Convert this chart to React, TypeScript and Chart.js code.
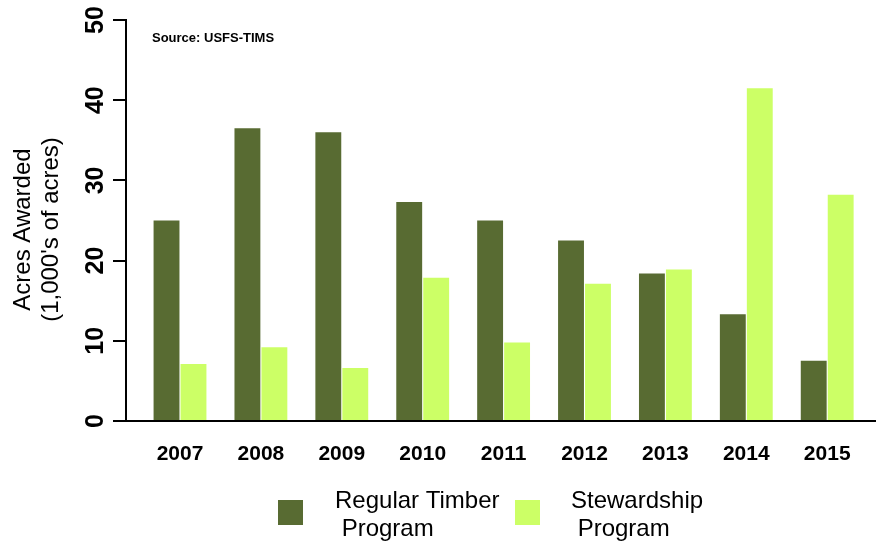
import React, { useEffect, useRef } from "react";
import { Chart, registerables } from "chart.js";

Chart.register(...registerables);

const years = [2007, 2008, 2009, 2010, 2011, 2012, 2013, 2014, 2015];
const regularTimber = [25.0, 36.5, 36.0, 27.3, 25.0, 22.5, 18.4, 13.3, 7.5];
const stewardship = [7.1, 9.2, 6.6, 17.85, 9.8, 17.1, 18.9, 41.5, 28.2];
const seriesLabels = [["Regular Timber", " Program"], ["Stewardship", " Program"]];
const yTicks = [0, 10, 20, 30, 40, 50];
const yTitle = ["Acres Awarded", "(1,000's of acres)"];
const sourceNote = "Source: USFS-TIMS";

const DARK = "rgb(88,107,50)";
const LIGHT = "rgb(204,255,102)";
const FONT = "'Liberation Sans', Arial, Helvetica, sans-serif";

const extrasPlugin = {
  id: "extras",
  afterDraw(chart: any) {
    const ctx = chart.ctx;
    const area = chart.chartArea;
    ctx.save();
    // source note
    ctx.fillStyle = "#000";
    ctx.font = `bold 13px ${FONT}`;
    ctx.textAlign = "left";
    ctx.textBaseline = "alphabetic";
    ctx.fillText(sourceNote, area.left + 26, area.top + 21.5);
    // y axis title
    ctx.save();
    ctx.translate(23, (area.top + area.bottom) / 2 + 9);
    ctx.rotate(-Math.PI / 2);
    ctx.font = `24px ${FONT}`;
    ctx.textAlign = "center";
    ctx.textBaseline = "middle";
    yTitle.forEach((ln, j) => ctx.fillText(ln, 0, j * 28));
    ctx.restore();
    // legend
    const boxX = [278, 515];
    const textX = [335, 571];
    ctx.font = `24px ${FONT}`;
    ctx.textAlign = "left";
    ctx.textBaseline = "alphabetic";
    chart.data.datasets.forEach((ds: any, i: number) => {
      ctx.fillStyle = ds.backgroundColor;
      ctx.fillRect(boxX[i], 500, 25, 25);
      ctx.fillStyle = "#000";
      const lines = ds.label as string[];
      lines.forEach((ln: string, j: number) => {
        ctx.fillText(ln, textX[i], 508 + j * 27.5);
      });
    });
    ctx.restore();
  },
};

export default function App() {
  const ref = useRef<HTMLCanvasElement | null>(null);
  useEffect(() => {
    const canvas = ref.current!;
    const minX = years[0] - 0.6675;
    const maxX = minX + 750 / 80.9;
    const chart = new Chart(canvas, {
      type: "bar",
      data: {
        labels: years,
        datasets: [
          { label: seriesLabels[0] as any, data: regularTimber, backgroundColor: DARK },
          { label: seriesLabels[1] as any, data: stewardship, backgroundColor: LIGHT },
        ],
      },
      options: {
        animation: false,
        responsive: false,
        maintainAspectRatio: false,
        layout: { padding: { top: 20, left: 0, right: 0, bottom: 0 } },
        datasets: { bar: { categoryPercentage: 2 / 3, barPercentage: 0.96 } },
        plugins: { legend: { display: false }, tooltip: { enabled: false }, title: { display: false } },
        scales: {
          x: {
            type: "linear",
            offset: false,
            min: minX,
            max: maxX,
            afterBuildTicks: (scale: any) => {
              scale.ticks = years.map((v) => ({ value: v }));
            },
            afterFit: (scale: any) => {
              scale.height = 120;
              scale.paddingLeft = 0;
              scale.paddingRight = 0;
            },
            grid: { display: false, drawTicks: false },
            border: { display: true, color: "#000", width: 2 },
            ticks: {
              color: "#000",
              font: { family: FONT, size: 21, weight: "bold" },
              padding: 21,
              autoSkip: false,
              maxRotation: 0,
              callback: (v: any) => String(v),
            },
          },
          y: {
            min: 0,
            max: 50,
            afterBuildTicks: (scale: any) => {
              scale.ticks = yTicks.map((v) => ({ value: v }));
            },
            afterFit: (scale: any) => {
              scale.width = 126;
            },
            grid: { drawOnChartArea: false, drawTicks: true, tickLength: 13, color: "#000", lineWidth: 2 },
            border: { display: true, color: "#000", width: 2 },
            ticks: {
              color: "#000",
              font: { family: FONT, size: 25, weight: "bold" },
              minRotation: 90,
              maxRotation: 90,
              crossAlign: "center",
              padding: 3,
              callback: (v: any) => String(v),
            },
            title: { display: false },
          },
        },
      },
      plugins: [extrasPlugin],
    } as any);
    return () => chart.destroy();
  }, []);
  return (
    <div style={{ position: "fixed", left: 0, top: 0, width: 876, height: 541, background: "#fff" }}>
      <canvas ref={ref} width={876} height={541} style={{ width: 876, height: 541, display: "block" }} />
    </div>
  );
}
